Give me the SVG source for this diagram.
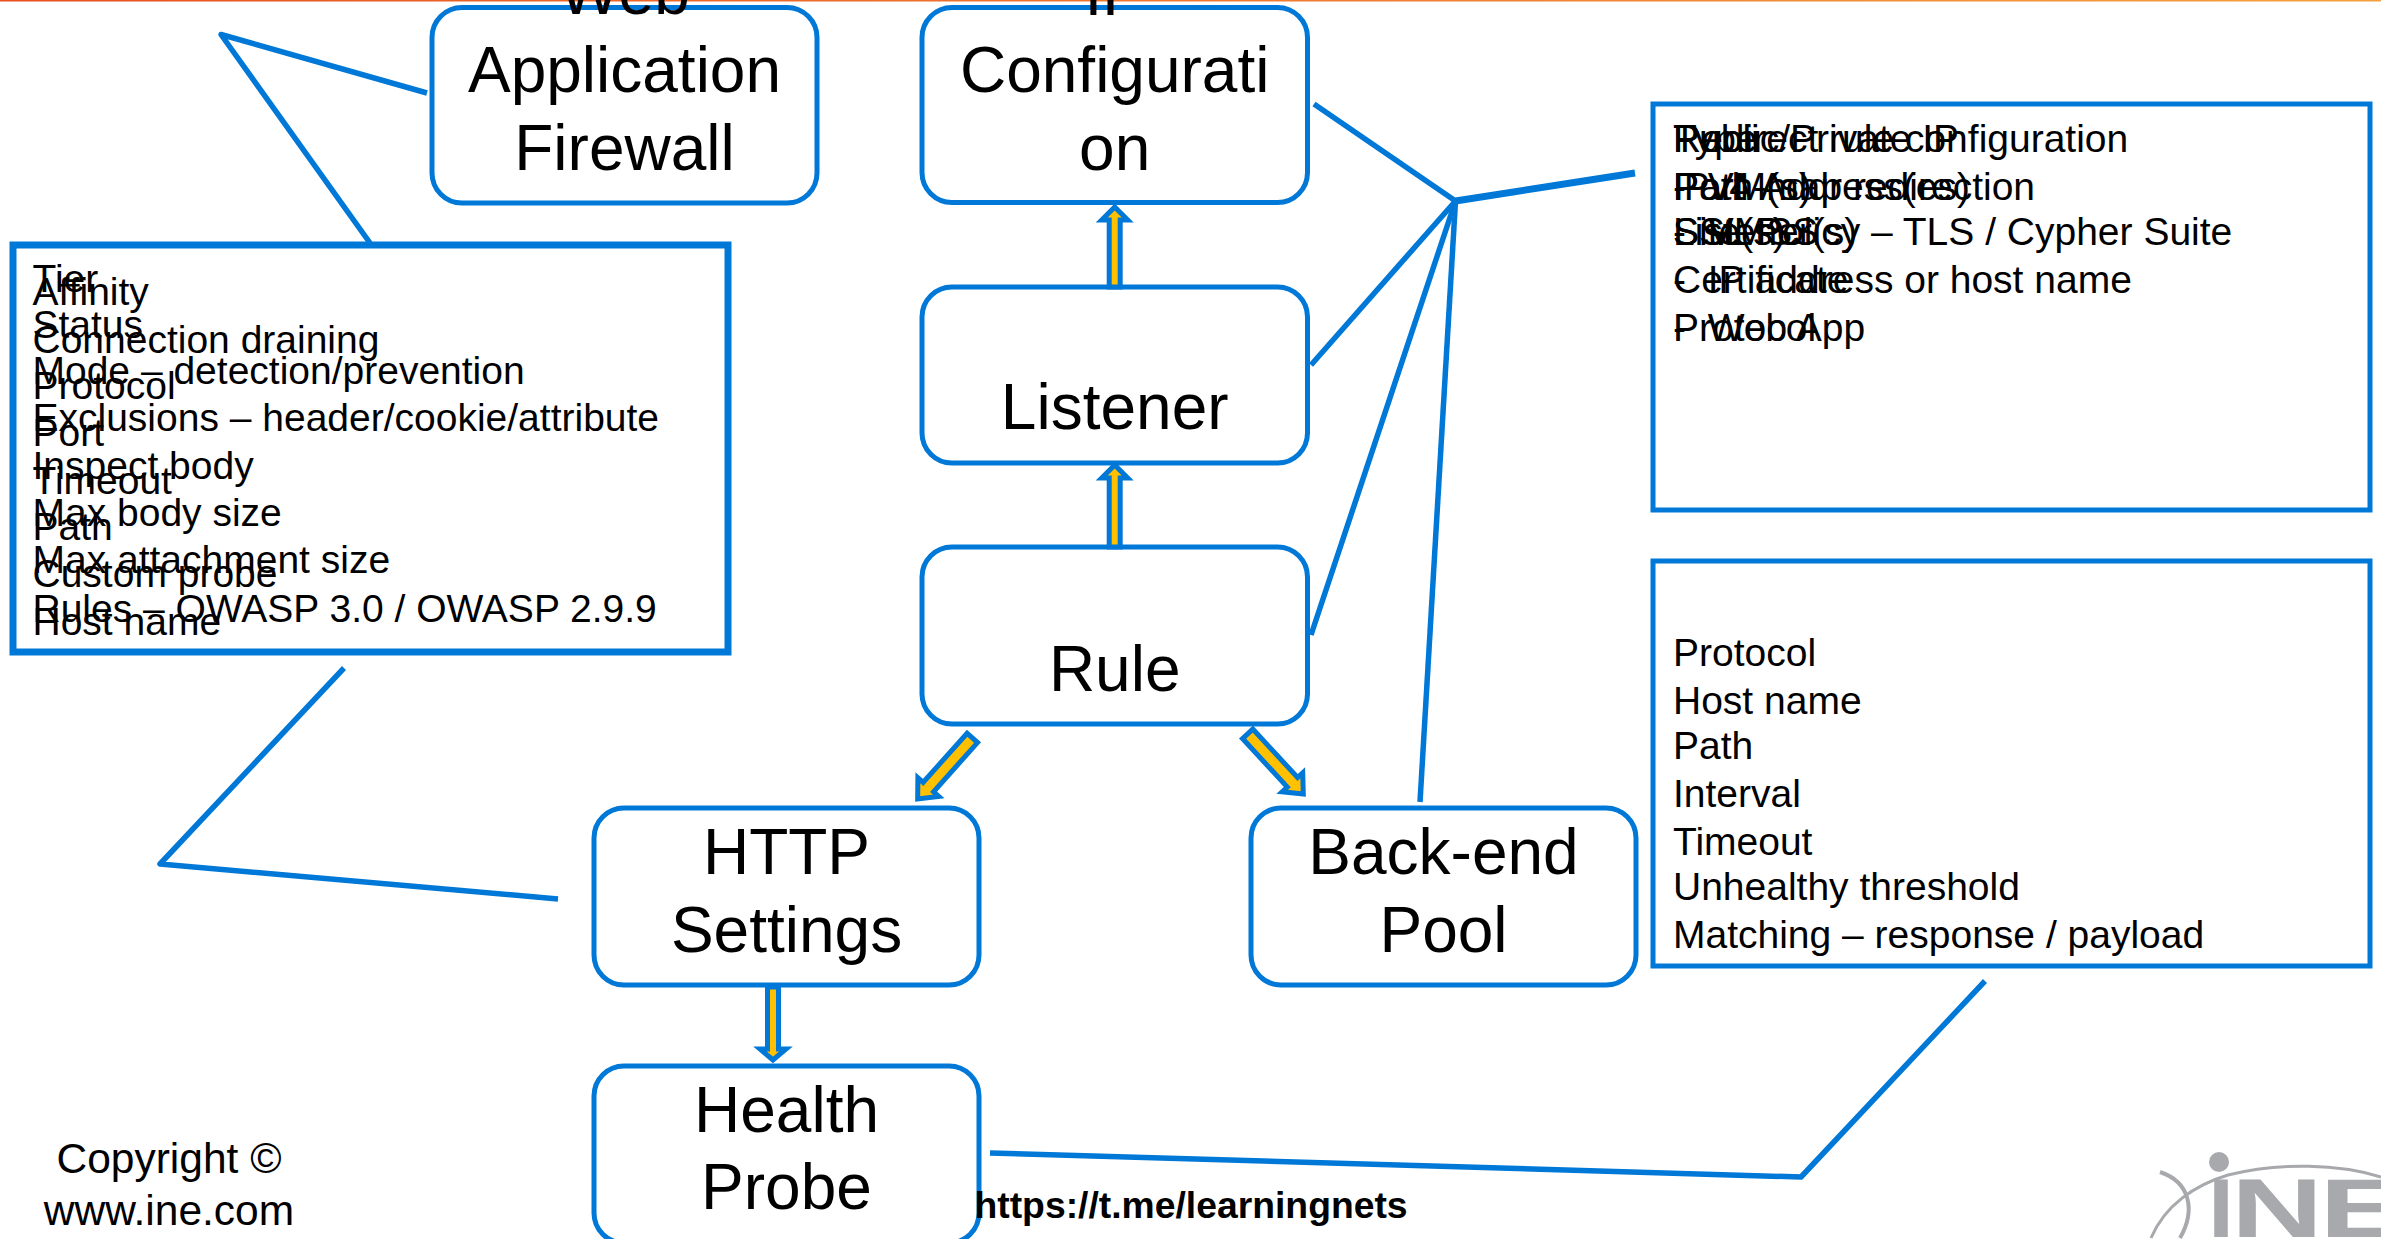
<svg xmlns="http://www.w3.org/2000/svg" width="2381" height="1239" viewBox="0 0 2381 1239">
<style>
text{font-family:"Liberation Sans",Arial,sans-serif;fill:#000}
.n{fill:#fff;stroke:#0078D7;stroke-width:5}
.b{fill:#fff;stroke:#0078D7;stroke-width:5}
.t{font-size:64px;text-anchor:middle}
.l text{font-size:39px}
.c{fill:none;stroke:#0078D7;stroke-width:5.500;stroke-linejoin:round}
.a{fill:#FFC000;stroke:#0078D7;stroke-width:5;stroke-miterlimit:10}
.logo{fill:#A7A9AC;font-weight:bold;font-size:84px}
</style>
<defs><linearGradient id="top" x1="0" x2="1" y1="0" y2="0"><stop offset="0" stop-color="#E8501E"/><stop offset="1" stop-color="#F5A040"/></linearGradient></defs>
<rect x="0" y="0" width="2381" height="1239" fill="#fff"/>
<rect x="0" y="0" width="2381" height="1.500" fill="url(#top)"/>
<g id="connectors">
<polyline class="c" points="427,93 221,34.500 370,243"/>
<polyline class="c" points="344,668 160,864 558,899"/>
<line class="c" x1="1314" y1="104" x2="1455.500" y2="201"/>
<line class="c" x1="1311" y1="365" x2="1455.500" y2="201"/>
<line class="c" x1="1311" y1="635" x2="1455.500" y2="201"/>
<line class="c" x1="1420" y1="802" x2="1455.500" y2="201"/>
<line class="c" style="stroke-width:7" x1="1455.500" y1="201" x2="1635" y2="173"/>
<polyline class="c" points="990,1153 1801,1177 1985,981"/>
</g>
<g id="waf"><rect class="n" x="432" y="7.500" width="385" height="195.500" rx="30"/><text class="t" x="624.500" y="14">Web</text><text class="t" x="624.500" y="92">Application</text><text class="t" x="624.500" y="170">Firewall</text></g>
<g id="ipconfig"><rect class="n" x="922" y="7.500" width="385.500" height="195" rx="30"/><text class="t" x="1114.700" y="15">IP</text><text class="t" x="1114.700" y="92">Configurati</text><text class="t" x="1114.700" y="170">on</text></g>
<g id="listener"><rect class="n" x="922" y="287" width="385.500" height="176" rx="30"/><text class="t" x="1114.700" y="429">Listener</text></g>
<g id="rule"><rect class="n" x="922" y="547" width="385.500" height="177" rx="30"/><text class="t" x="1114.700" y="691">Rule</text></g>
<g id="backend"><rect class="n" x="1251" y="808" width="385" height="177" rx="30"/><text class="t" x="1443.500" y="874">Back-end</text><text class="t" x="1443.500" y="952">Pool</text></g>
<g id="http"><rect class="n" x="594" y="808" width="385" height="177" rx="30"/><text class="t" x="786.500" y="874">HTTP</text><text class="t" x="786.500" y="952">Settings</text></g>
<g id="health"><rect class="n" x="594" y="1066" width="385" height="177" rx="30"/><text class="t" x="786.500" y="1132">Health</text><text class="t" x="786.500" y="1209">Probe</text></g>
<g id="arrows">
<polygon class="a" transform="translate(1114.700 203)" points="0,4 13,17 5.500,17 5.500,84 -5.500,84 -5.500,17 -13,17"/>
<polygon class="a" transform="translate(1114.700 461)" points="0,4 13,17 5.500,17 5.500,86 -5.500,86 -5.500,17 -13,17"/>
<polygon class="a" transform="translate(773 1064) rotate(180)" points="0,4 13,15 5.500,15 5.500,77 -5.500,77 -5.500,15 -13,15"/>
<polygon class="a" transform="translate(915 802) rotate(221.800)" points="0,4 14,20 7,20 7,86 -7,86 -7,20 -14,20"/>
<polygon class="a" transform="translate(1306 797) rotate(137.300)" points="0,4 14,20 7,20 7,86 -7,86 -7,20 -14,20"/>
</g>
<g id="left-box"><rect class="b" style="stroke-width:7" x="13" y="245" width="715" height="407"/>
<g class="l"><text x="32.500" y="292">Tier</text><text x="32.500" y="338">Status</text><text x="32.500" y="384">Mode – detection/prevention</text><text x="32.500" y="431">Exclusions – header/cookie/attribute</text><text x="32.500" y="479">Inspect body</text><text x="32.500" y="526">Max body size</text><text x="32.500" y="573">Max attachment size</text><text x="32.500" y="622">Rules – OWASP 3.0 / OWASP 2.9.9</text>
<text x="32.500" y="304.500">Affinity</text><text x="32.500" y="352.500">Connection draining</text><text x="32.500" y="399">Protocol</text><text x="32.500" y="446">Port</text><text x="32.500" y="494">Timeout</text><text x="32.500" y="540">Path</text><text x="32.500" y="587">Custom probe</text><text x="32.500" y="635">Host name</text></g></g>
<g id="right-box-top"><rect class="b" x="1653" y="104" width="717" height="406"/>
<g class="l"><text x="1673" y="151.500">Type</text><text x="1673" y="151.500">Public/Private IP</text><text x="1673" y="151.500">Redirect rule configuration</text>
<text x="1673" y="199.500">Port</text><text x="1673" y="199.500">IPv4 Address(es)</text><text x="1673" y="199.500">Path-map redirection</text><text x="1673" y="199.500">-&#160; VM(s)</text>
<text x="1673" y="244.500">Listener(s)</text><text x="1673" y="244.500">SSL Policy – TLS / Cypher Suite</text><text x="1673" y="244.500">-&#160; VMSS</text><text x="1673" y="244.500">Site(s)</text>
<text x="1673" y="292.500">Certificate</text><text x="1673" y="292.500">-&#160; IP address or host name</text>
<text x="1673" y="340.500">Protocol</text><text x="1673" y="340.500">-&#160; Web App</text></g></g>
<g id="right-box-bottom"><rect class="b" x="1653" y="561" width="717" height="405"/>
<g class="l"><text x="1673" y="666">Protocol</text><text x="1673" y="713.500">Host name</text><text x="1673" y="758.500">Path</text><text x="1673" y="806.500">Interval</text><text x="1673" y="854.500">Timeout</text><text x="1673" y="899.500">Unhealthy threshold</text><text x="1673" y="947.500">Matching – response / payload</text></g></g>
<g id="copyright"><text x="169" y="1173" font-size="42.500" text-anchor="middle">Copyright ©</text><text x="169" y="1225" font-size="42.500" text-anchor="middle">www.ine.com</text></g>
<g id="url"><text x="974.500" y="1217.500" font-size="37.300" font-weight="bold">https://t.me/learningnets</text></g>
<g id="logo"><circle cx="2219" cy="1162" r="10" fill="#A7A9AC"/>
<path d="M2151 1238C2165 1205 2195 1185 2228 1175C2280 1162 2340 1164 2381 1177" fill="none" stroke="#A7A9AC" stroke-width="3"/>
<path d="M2160 1172C2190 1182 2196 1210 2180 1238" fill="none" stroke="#A7A9AC" stroke-width="4"/>
<text class="logo" x="2208" y="1237" textLength="26" lengthAdjust="spacingAndGlyphs">I</text>
<text class="logo" x="2231" y="1237" textLength="92" lengthAdjust="spacingAndGlyphs">N</text>
<text class="logo" x="2319" y="1237" textLength="90" lengthAdjust="spacingAndGlyphs">E</text></g>
</svg>
